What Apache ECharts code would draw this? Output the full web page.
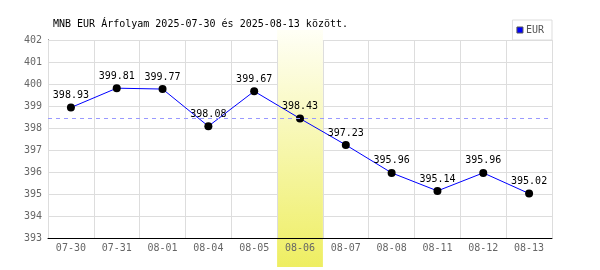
<!DOCTYPE html>
<html>
<head>
<meta charset="utf-8">
<script src="https://cdn.jsdelivr.net/npm/echarts@6/dist/echarts.min.js"></script>
<style>html,body{margin:0;padding:0;background:#fff}#c{width:600px;height:270px}</style>
</head>
<body>
<div id="c"></div>
<script>
const titleText = 'MNB EUR Árfolyam 2025-07-30 és 2025-08-13 között.';
const seriesName = 'EUR';
const categories = ['07-30','07-31','08-01','08-04','08-05','08-06','08-07','08-08','08-11','08-12','08-13'];
const values = [398.93, 399.81, 399.77, 398.08, 399.67, 398.43, 397.23, 395.96, 395.14, 395.96, 395.02];
const highlightCategory = '08-06';
const yMin = 393, yMax = 402, yStep = 1;

const FONT = '"DejaVu Sans Mono", monospace';
const hIdx = categories.indexOf(highlightCategory);

const chart = echarts.init(document.getElementById('c'), null, {renderer: 'canvas'});
chart.setOption({
  animation: false,
  backgroundColor: '#fff',
  title: {
    text: titleText,
    left: 53, top: 19, padding: 0,
    textStyle: {fontFamily: FONT, fontSize: 10, fontWeight: 'normal', color: '#000'}
  },
  legend: {
    data: [{name: seriesName, itemStyle: {color: '#0000ff', borderColor: '#555', borderWidth: 1}}],
    right: 48, top: 20,
    padding: [5, 8, 5, 4],
    borderColor: '#ddd', borderWidth: 1,
    icon: 'rect', itemWidth: 6, itemHeight: 6, itemGap: 0,
    textStyle: {fontFamily: FONT, fontSize: 10, color: '#555', padding: [0, 0, 0, -2]}
  },
  grid: {left: 48, right: 48, top: 40, bottom: 32, containLabel: false},
  xAxis: {
    type: 'category', data: categories, boundaryGap: true, z: 3,
    axisLine: {lineStyle: {color: '#000', width: 1}},
    axisTick: {show: false},
    axisLabel: {fontFamily: FONT, fontSize: 10, color: '#666', margin: 5, interval: 0},
    splitLine: {show: true, interval: 0, lineStyle: {color: '#ddd', width: 1}}
  },
  yAxis: {
    type: 'value', min: yMin, max: yMax, interval: yStep, z: 0,
    axisLine: {show: true, lineStyle: {color: '#000', width: 1}},
    axisTick: {show: false},
    axisLabel: {fontFamily: FONT, fontSize: 10, color: '#666', margin: 6},
    splitLine: {show: true, lineStyle: {color: '#ddd', width: 1}}
  },
  series: [
    {
      name: 'ref', type: 'line', data: [], z: 1, silent: true,
      markLine: {
        silent: true, symbol: 'none', label: {show: false},
        lineStyle: {color: '#9999ff', type: [4, 4], width: 1},
        data: [{yAxis: values[hIdx]}]
      }
    },
    {
      name: 'band', type: 'custom', z: 2, silent: true, clip: false,
      data: [[highlightCategory, yMin]],
      encode: {x: 0, y: 1},
      renderItem: function (params, api) {
        const cs = params.coordSys;
        const x = api.coord([api.value(0), yMin])[0];
        const w = api.size([1, 0])[0];
        return {
          type: 'rect',
          shape: {x: x - w / 2, y: cs.y - 10, width: w, height: cs.height + 39},
          style: {
            fill: new echarts.graphic.LinearGradient(0, 0, 0, 1, [
              {offset: 0, color: '#fffff6'},
              {offset: 1, color: '#eeee62'}
            ])
          }
        };
      }
    },
    {
      name: seriesName, type: 'line', data: values, z: 4,
      symbol: 'circle', symbolSize: 8,
      itemStyle: {color: '#000'},
      lineStyle: {color: '#0000ff', width: 1},
      label: {show: true, position: 'top', distance: 3, fontFamily: FONT, fontSize: 10, color: '#000',
        formatter: p => p.value.toFixed(2)}
    }
  ]
});
</script>
</body>
</html>
